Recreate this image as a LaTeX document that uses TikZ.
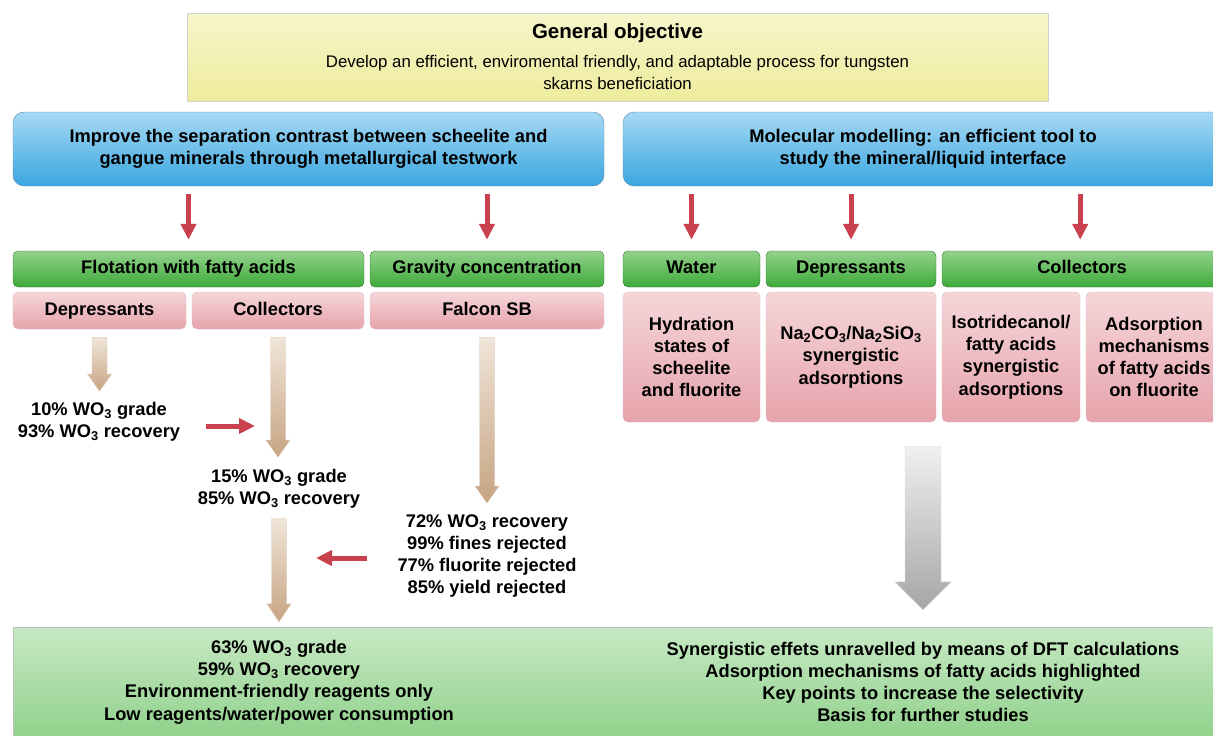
\documentclass[tikz,border=0pt]{standalone}
\usepackage{fontspec}
\setmainfont{Liberation Sans}
\usetikzlibrary{arrows.meta,calc}

\definecolor{yelT}{HTML}{F6F5CB}
\definecolor{yelB}{HTML}{EEEC9C}
\definecolor{bluT}{HTML}{A6D9F4}
\definecolor{bluB}{HTML}{3AA6E0}
\definecolor{bluD}{HTML}{5B87A8}
\definecolor{grnT}{HTML}{93D28B}
\definecolor{grnB}{HTML}{3EAA3B}
\definecolor{grnD}{HTML}{3D7A3A}
\definecolor{pnkT}{HTML}{F5D6D9}
\definecolor{pnkB}{HTML}{E6A3AB}
\definecolor{pnkD}{HTML}{E0BEC2}
\definecolor{resT}{HTML}{C7E9C4}
\definecolor{resB}{HTML}{8CCF87}
\definecolor{redA}{HTML}{C9414E}
\definecolor{tanT}{HTML}{F0E5D9}
\definecolor{tanB}{HTML}{C7A482}

% fat block arrow: style, start, tip, half shaft, half head, head length
\newcommand\fatarrow[6]{%
  \path[#1] let \p1=#2, \p2=#3 in
    (\x1-#4pt,\y1) -- (\x1+#4pt,\y1) -- (\x1+#4pt,\y2+#6pt) -- (\x1+#5pt,\y2+#6pt)
    -- (\x1,\y2) -- (\x1-#5pt,\y2+#6pt) -- (\x1-#4pt,\y2+#6pt) -- cycle;}

\begin{document}
\begin{tikzpicture}[x=1pt,y=-1pt,
    txt/.style={font=\fontsize{18.3}{22.3}\selectfont\bfseries, align=center, inner sep=0pt},
    oneline/.style={text height=13.5pt, text depth=4pt},
    objbox/.style={draw=black!18, top color=yelT, bottom color=yelB, align=center,
      font=\fontsize{16.8}{22}\selectfont, minimum width=861, minimum height=88, inner sep=0pt},
    aimbox/.style={txt, draw=bluD, top color=bluT, bottom color=bluB, rounded corners=11pt,
      minimum height=74},
    grnbox/.style={txt, oneline, draw=grnD, top color=grnT, bottom color=grnB, rounded corners=5pt,
      minimum height=36},
    pnkbox/.style={txt, draw=pnkD, top color=pnkT, bottom color=pnkB, rounded corners=5pt},
    redarr/.style={draw=redA, line width=5pt, -{Triangle[length=16pt,width=15pt]}},
    tanarr/.style={top color=tanT, bottom color=tanB, draw=tanB!60, line width=0.4pt},
    gryarr/.style={top color=black!6, bottom color=black!35, draw=black!12, line width=0.4pt}]
    \useasboundingbox (0,0) rectangle (1213,736);
    \clip (0,0) rectangle (1213,736);

    \node[objbox] (goal) at (617.5,57) {{\fontsize{20.5}{26}\selectfont\bfseries General objective}\\[7pt]
      Develop an efficient, enviromental friendly, and adaptable process for tungsten\\
      skarns beneficiation};

    \node[aimbox, minimum width=591] (imp) at (308.5,149) {Improve the separation contrast between scheelite and\\gangue minerals through metallurgical testwork};
    \node[aimbox, minimum width=600] (mol) at (923,149) {Molecular modelling: an efficient tool to\\study the mineral/liquid interface};

    \node[grnbox, minimum width=351] (flot) at (188.5,269) {Flotation with fatty acids};
    \node[grnbox, minimum width=234] (grav) at (487,269) {Gravity concentration};
    \node[grnbox, minimum width=137] (wat) at (691.5,269) {Water};
    \node[grnbox, minimum width=170] (depM) at (851,269) {Depressants};
    \node[grnbox, minimum width=280] (colM) at (1082,269) {Collectors};

    \node[pnkbox, oneline, minimum width=173, minimum height=37] (depL) at (99.5,310.5) {Depressants};
    \node[pnkbox, oneline, minimum width=172, minimum height=37] (colL) at (278,310.5) {Collectors};
    \node[pnkbox, oneline, minimum width=234, minimum height=37] (falc) at (487,310.5) {Falcon SB};

    \node[pnkbox, minimum width=137, minimum height=130] (hydr) at (691.5,357) {Hydration\\states of\\scheelite\\and fluorite};
    \node[pnkbox, minimum width=170, minimum height=130] (naco) at (851,357) {Na\textsubscript{2}CO\textsubscript{3}/Na\textsubscript{2}SiO\textsubscript{3}\\synergistic\\adsorptions};
    \node[pnkbox, minimum width=138, minimum height=130] (isot) at (1011,357) {Isotridecanol/\\fatty acids\\synergistic\\adsorptions};
    \node[pnkbox, minimum width=136, minimum height=130] (adso) at (1154,357) {Adsorption\\mechanisms\\of fatty acids\\on fluorite};

    \node[txt] (r10) at (99,422) {10\% WO\textsubscript{3} grade\\93\% WO\textsubscript{3} recovery};
    \node[txt] (r15) at (279,489) {15\% WO\textsubscript{3} grade\\85\% WO\textsubscript{3} recovery};
    \node[txt] (r72) at (487,556) {72\% WO\textsubscript{3} recovery\\99\% fines rejected\\77\% fluorite rejected\\85\% yield rejected};

    \node[draw=black!25, top color=resT, bottom color=resB, minimum width=1214, minimum height=120,
      inner sep=0pt] (fin) at (620,687) {};
    \node[txt] (resL) at (279,682) {63\% WO\textsubscript{3} grade\\59\% WO\textsubscript{3} recovery\\Environment-friendly reagents only\\Low reagents/water/power consumption};
    \node[txt] (resR) at (923,682) {Synergistic effets unravelled by means of DFT calculations\\Adsorption mechanisms of fatty acids highlighted\\Key points to increase the selectivity\\Basis for further studies};

    % red arrows from the aims
    \foreach \g in {flot,grav} {\draw[redarr, shorten <=8pt, shorten >=11pt] (\g.north |- imp.south) -- (\g.north);}
    \foreach \g in {wat,depM} {\draw[redarr, shorten <=8pt, shorten >=11pt] (\g.north |- mol.south) -- (\g.north);}
    \draw[redarr, shorten <=8pt, shorten >=11pt] (isot.north east |- mol.south) -- (isot.north east |- colM.north);

    % block arrows
    \fatarrow{tanarr}{($(depL.south)+(0,8)$)}{($(r10.north)+(0,-11)$)}{7.5}{12}{17}
    \fatarrow{tanarr}{($(colL.south)+(0,8)$)}{($(r15.north -| colL)+(0,-12)$)}{7.5}{12}{17}
    \fatarrow{tanarr}{($(falc.south)+(0,8)$)}{($(r72.north)+(0,-11)$)}{7.5}{12}{17}
    \fatarrow{tanarr}{($(r15.south)+(0,10)$)}{($(r15 |- fin.north)+(0,-5)$)}{7.5}{12}{18}
    \fatarrow{gryarr}{($(resR |- hydr.south)+(0,24)$)}{($(resR |- fin.north)+(0,-17)$)}{18}{28.5}{28}

    \draw[redarr] ($(r10.east)+(26,4)$) -- ($(r10.east -| r15)+(-24,4)$);
    \draw[redarr] ($(r72.west)+(-30,2)$) -- ($(r72.west -| r15)+(37,2)$);
\end{tikzpicture}
\end{document}
